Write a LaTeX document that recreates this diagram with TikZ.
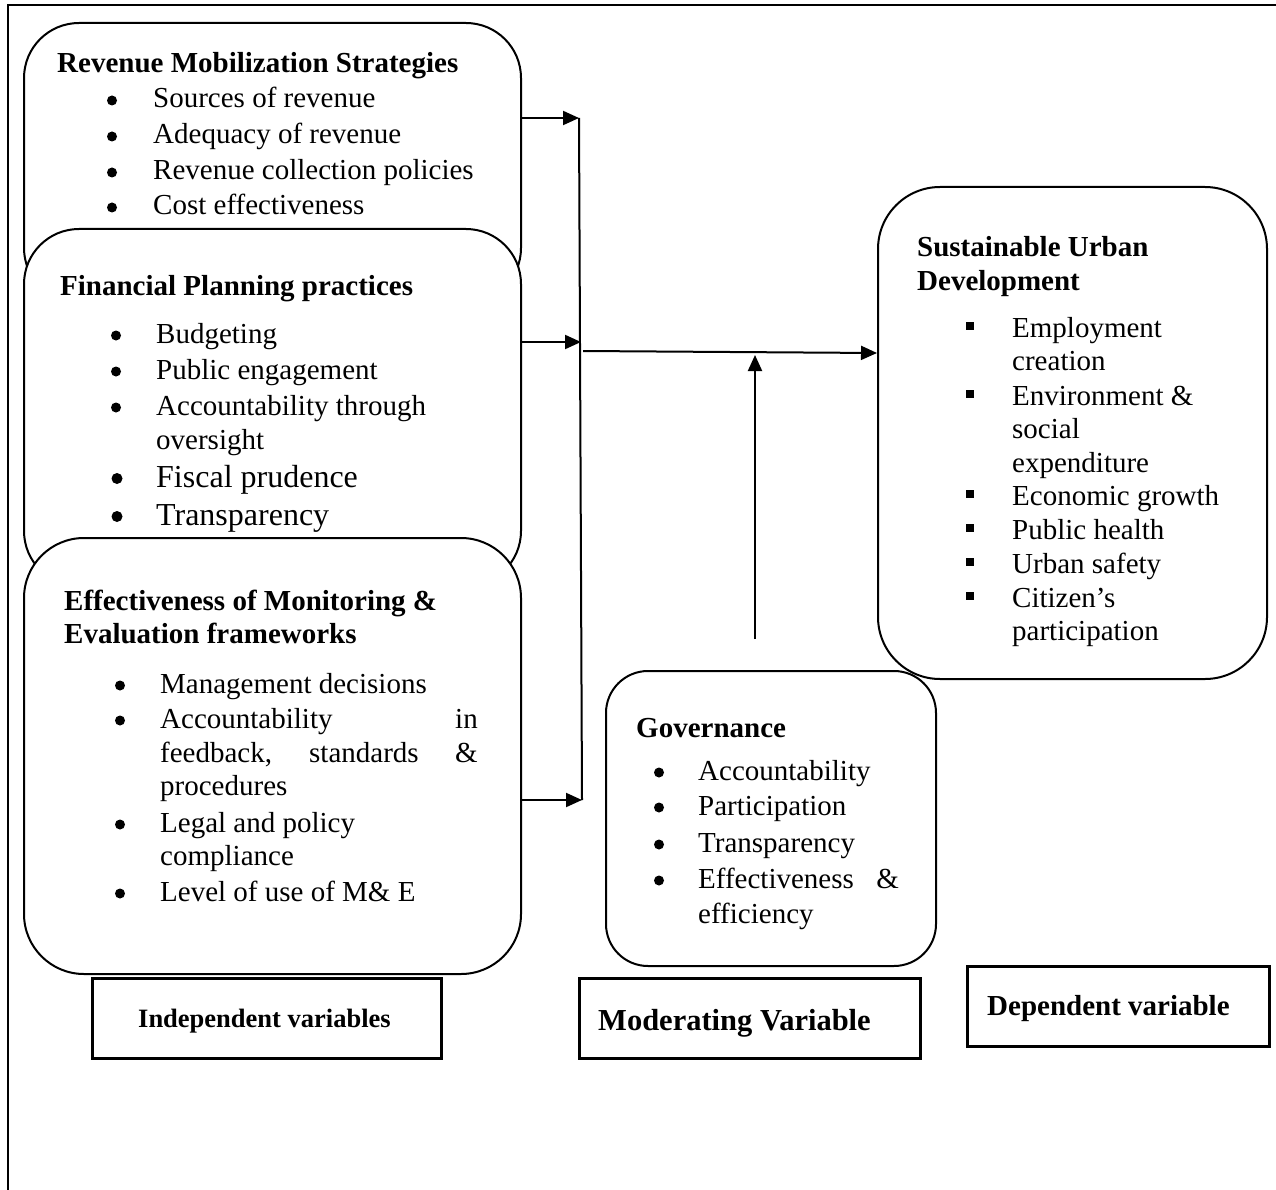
\documentclass[tikz,border=0pt]{standalone}
\usepackage{fontspec}
\setmainfont{Liberation Serif}
\usetikzlibrary{arrows.meta}
\begin{document}
\begin{tikzpicture}[x=1pt,y=-1pt,
  rbox/.style={draw, line width=2pt, fill=white, rounded corners=55pt, inner sep=0pt, anchor=north west},
  lbox/.style={draw, line width=3pt, inner sep=0pt, anchor=north west},
  txt/.style={anchor=base west, inner sep=0pt, font=\fontsize{29}{36}\selectfont},
  txtr/.style={anchor=base east, inner sep=0pt, font=\fontsize{29}{36}\selectfont},
  bigtxt/.style={anchor=base west, inner sep=0pt, font=\fontsize{32}{38}\selectfont},
  ttl/.style={anchor=base west, inner sep=0pt, font=\fontsize{29}{36}\selectfont\bfseries},
  arr/.style={line width=2pt, -{Triangle[length=16pt,width=14pt]}},
  plain/.style={line width=2pt},
]
\useasboundingbox (0,0) rectangle (1276,1190);
\fill[white] (0,0) rectangle (1276,1190);
% outer frame
\draw[line width=2.2pt] (8,1190) -- (8,5) -- (1276,5);

% left column boxes
\node[rbox, minimum width=497pt, minimum height=280pt] (rms) at (23,22) {};
\node[rbox, minimum width=497pt, minimum height=357pt] (fpp) at (23,228) {};
\node[rbox, minimum width=497pt, minimum height=436pt, rounded corners=60pt] (mne) at (23,537) {};
% right boxes
\node[rbox, minimum width=389pt, minimum height=492pt, rounded corners=62pt] (sud) at (877,186) {};
\node[rbox, minimum width=330pt, minimum height=295pt, rounded corners=42pt] (gov) at (605,670) {};

% RMS text
\node[ttl] (rmst) at (57,73) {Revenue Mobilization Strategies};
\node[txt] (rms1) at (153,108) {Sources of revenue};
\node[txt] (rms2) at (153,144) {Adequacy of revenue};
\node[txt] (rms3) at (153,180) {Revenue collection policies};
\node[txt] (rms4) at (153,215) {Cost effectiveness};
\foreach \y in {108,144,180,215} \fill (112,\y-7.5) circle (5pt);

% FPP text
\node[ttl] (fppt) at (60,295) {Financial Planning practices};
\node[txt] (fpp1) at (156,343) {Budgeting};
\node[txt] (fpp2) at (156,379) {Public engagement};
\node[txt] (fpp3) at (156,415) {Accountability through};
\node[txt] (fpp3b) at (156,449) {oversight};
\node[bigtxt] (fpp4) at (156,487) {Fiscal prudence};
\node[bigtxt] (fpp5) at (156,525) {Transparency};
\foreach \y in {343,379,415} \fill (116,\y-7.5) circle (5pt);
\foreach \y in {487,525} \fill (117,\y-8.5) circle (5.5pt);

% M&E text
\node[ttl] (mnet1) at (64,610) {Effectiveness of Monitoring \&};
\node[ttl] (mnet2) at (64,643) {Evaluation frameworks};
\node[txt] (mne1) at (160,693) {Management decisions};
\node[txt] (mne2) at (160,728) {Accountability};
\node[txtr] (mne2b) at (478,728) {in};
\node[txt] (mne2c) at (160,762) {feedback,};
\node[txt] (mne2d) at (309,762) {standards};
\node[txtr] (mne2e) at (478,762) {\&};
\node[txt] (mne2f) at (160,795) {procedures};
\node[txt] (mne3) at (160,832) {Legal and policy};
\node[txt] (mne3b) at (160,865) {compliance};
\node[txt] (mne4) at (160,901) {Level of use of M\& E};
\foreach \y in {693,728,832,901} \fill (120,\y-7.5) circle (5pt);

% SUD text
\node[ttl] (sudt1) at (917,257) {Sustainable Urban};
\node[ttl] (sudt2) at (917,290) {Development};
\node[txt] (sud1) at (1012,337) {Employment};
\node[txt] (sud1b) at (1012,370) {creation};
\node[txt] (sud2) at (1012,405) {Environment \&};
\node[txt] (sud2b) at (1012,438) {social};
\node[txt] (sud2c) at (1012,472) {expenditure};
\node[txt] (sud3) at (1012,505) {Economic growth};
\node[txt] (sud4) at (1012,539) {Public health};
\node[txt] (sud5) at (1012,573) {Urban safety};
\node[txt] (sud6) at (1012,607) {Citizen’s};
\node[txt] (sud6b) at (1012,640) {participation};
\foreach \y in {337,405,505,539,573,607} \fill (966.2,\y-14.8) rectangle ++(7.6,7.6);

% Governance text
\node[ttl] (govt) at (636,737) {Governance};
\node[txt] (gov1) at (698,780) {Accountability};
\node[txt] (gov2) at (698,815) {Participation};
\node[txt] (gov3) at (698,852) {Transparency};
\node[txt] (gov4) at (698,888) {Effectiveness};
\node[txtr] (gov4b) at (899,888) {\&};
\node[txt] (gov4c) at (698,923) {efficiency};
\foreach \y in {780,815,852,888} \fill (659,\y-7.5) circle (5pt);

% label boxes
\node[lbox, minimum width=349pt, minimum height=80pt] (indep) at (91,977) {};
\node[anchor=base west, inner sep=0pt, font=\fontsize{26.5}{30}\selectfont\bfseries] (indept) at (138,1027) {Independent variables};
\node[lbox, minimum width=341pt, minimum height=80pt] (moder) at (578,977) {};
\node[anchor=base west, inner sep=0pt, font=\fontsize{30.5}{34}\selectfont\bfseries] (modert) at (598,1030) {Moderating Variable};
\node[lbox, minimum width=302pt, minimum height=80pt] (dep) at (966,965) {};
\node[anchor=base west, inner sep=0pt, font=\fontsize{29}{34}\selectfont\bfseries] (dept) at (987,1015) {Dependent variable};

% connectors
\coordinate (j1) at (579,118);
\coordinate (j2) at (581,342);
\coordinate (j3) at (582,800);
\draw[plain] (j1) -- (j3);
\draw[arr] (rms.east |- j1) -- (j1);
\draw[arr] (fpp.east |- j2) -- (j2);
\draw[arr] (mne.east |- j3) -- (j3);
\coordinate (m1) at (583,351);
\coordinate (m2) at (0,353);
\draw[arr] (m1) -- (sud.west |- m2);
\coordinate (g1) at (755,639);
\coordinate (g2) at (755,355);
\draw[arr] (g1) -- (g2);
\end{tikzpicture}
\end{document}
